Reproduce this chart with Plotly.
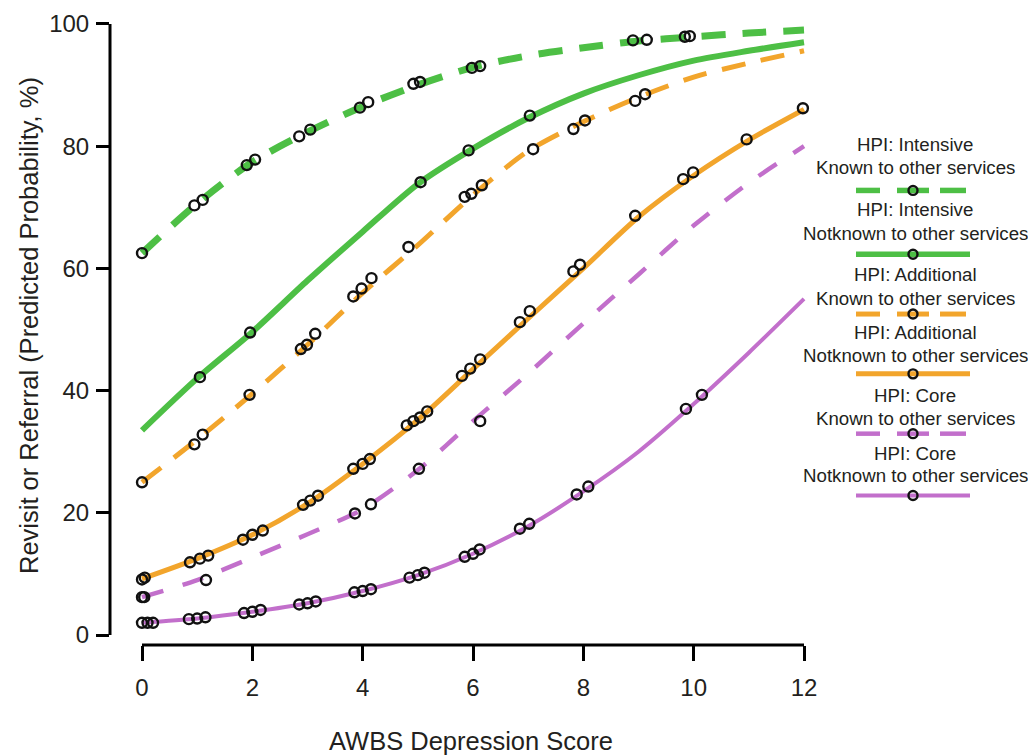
import plotly.graph_objects as go

# ---------------- data ----------------
x_scores = [0, 1, 2, 3, 4, 5, 6, 7, 8, 9, 10, 11, 12]

int_known    = [62.5, 70.6, 77.4, 82.3, 86.5, 90.0, 92.9, 94.8, 96.1, 97.2, 97.9, 98.5, 99.0]
int_notknown = [33.5, 42.0, 49.6, 58.0, 66.0, 73.8, 79.6, 84.6, 88.6, 91.6, 94.0, 95.6, 97.0]
add_known    = [25.0, 32.0, 39.5, 47.5, 56.0, 63.8, 72.0, 79.2, 84.0, 88.0, 91.3, 93.6, 95.6]
add_notknown = [9.2, 12.5, 16.4, 21.5, 28.0, 35.2, 43.5, 51.8, 60.0, 68.4, 75.2, 81.0, 86.0]
core_known   = [6.2, 9.0, 12.7, 16.5, 20.6, 27.0, 35.0, 42.8, 51.0, 59.0, 67.0, 74.0, 80.0]
core_notknown = [2.0, 2.7, 3.8, 5.2, 7.2, 9.8, 13.3, 17.8, 23.5, 30.0, 37.8, 46.2, 55.0]

# jittered observed points (x, predicted %)
pts_int_known_x = [0.0, 0.95, 1.1, 1.9, 2.05, 2.85, 3.05, 3.95, 4.1, 4.92, 5.04, 5.98, 6.13, 8.9, 9.15, 9.84, 9.93]
pts_int_known_y = [62.5, 70.3, 71.2, 76.9, 77.8, 81.6, 82.7, 86.3, 87.2, 90.2, 90.5, 92.8, 93.1, 97.3, 97.4, 97.9, 98.0]
pts_int_notknown_x = [1.05, 1.96, 5.05, 5.92, 7.03]
pts_int_notknown_y = [42.2, 49.5, 74.1, 79.3, 85.0]
pts_add_known_x = [0.0, 0.95, 1.1, 1.95, 2.88, 2.99, 3.14, 3.83, 3.98, 4.16, 4.83, 5.85, 5.97, 6.16, 7.09, 7.82, 8.03, 8.94, 9.12]
pts_add_known_y = [25.0, 31.2, 32.8, 39.3, 46.8, 47.5, 49.3, 55.4, 56.7, 58.4, 63.5, 71.7, 72.2, 73.6, 79.5, 82.8, 84.2, 87.4, 88.5]
pts_add_notknown_x = [0.0, 0.05, 0.87, 1.05, 1.2, 1.83, 2.0, 2.19, 2.92, 3.05, 3.19, 3.83, 4.0, 4.13, 4.8, 4.92, 5.04, 5.17,
                      5.8, 5.95, 6.13, 6.85, 7.03, 7.82, 7.94, 8.94, 9.81, 9.99, 10.96, 11.98]
pts_add_notknown_y = [9.1, 9.4, 11.9, 12.5, 13.0, 15.6, 16.4, 17.1, 21.3, 22.0, 22.8, 27.2, 28.0, 28.8, 34.3, 35.0, 35.6, 36.6,
                      42.4, 43.6, 45.1, 51.2, 53.0, 59.5, 60.6, 68.6, 74.6, 75.7, 81.1, 86.2]
pts_core_known_x = [0.0, 0.04, 1.16, 3.86, 4.15, 5.02, 6.13]
pts_core_known_y = [6.2, 6.2, 9.0, 19.9, 21.4, 27.2, 35.0]
pts_core_notknown_x = [0.0, 0.1, 0.2, 0.85, 1.0, 1.15, 1.85, 2.0, 2.15, 2.85, 3.0, 3.15, 3.85, 4.0, 4.15, 4.85, 5.0, 5.12,
                       5.85, 6.0, 6.12, 6.85, 7.02, 7.88, 8.09, 9.86, 10.15]
pts_core_notknown_y = [2.0, 2.0, 2.0, 2.6, 2.7, 2.9, 3.6, 3.8, 4.1, 5.0, 5.2, 5.5, 7.0, 7.2, 7.5, 9.4, 9.8, 10.2,
                       12.8, 13.3, 14.0, 17.4, 18.2, 23.0, 24.3, 37.0, 39.3]

series_names = [
    ("HPI: Intensive", "Known to other services"),
    ("HPI: Intensive", "Notknown to other services"),
    ("HPI: Additional", "Known to other services"),
    ("HPI: Additional", "Notknown to other services"),
    ("HPI: Core", "Known to other services"),
    ("HPI: Core", "Notknown to other services"),
]

GREEN = "#4dbf45"
ORANGE = "#f2a52c"
PURPLE = "#c26fcb"
TXT = "#231f20"
FONT = "Liberation Sans, Arial, Helvetica, sans-serif"

styles = [
    dict(color=GREEN, width=7, dash="24px,17px"),
    dict(color=GREEN, width=6, dash="solid"),
    dict(color=ORANGE, width=5, dash="24px,16px"),
    dict(color=ORANGE, width=5, dash="solid"),
    dict(color=PURPLE, width=4.5, dash="22px,20px"),
    dict(color=PURPLE, width=4, dash="solid"),
]
curves = [int_known, int_notknown, add_known, add_notknown, core_known, core_notknown]
pts = [
    (pts_int_known_x, pts_int_known_y),
    (pts_int_notknown_x, pts_int_notknown_y),
    (pts_add_known_x, pts_add_known_y),
    (pts_add_notknown_x, pts_add_notknown_y),
    (pts_core_known_x, pts_core_known_y),
    (pts_core_notknown_x, pts_core_notknown_y),
]

fig = go.Figure()
for (n1, n2), ys, st in zip(series_names, curves, styles):
    fig.add_trace(go.Scatter(
        x=x_scores, y=ys, mode="lines", line=dict(shape="spline", smoothing=0.8, **st),
        name=n1 + " " + n2, showlegend=False, hoverinfo="skip"))
for (n1, n2), st, (px_, py_) in zip(series_names, styles, pts):
    fig.add_trace(go.Scatter(
        x=px_, y=py_, mode="markers",
        marker=dict(symbol="circle", size=10, color="rgba(255,255,255,0)",
                    line=dict(color="#111111", width=2.4)),
        name=n1 + " " + n2, showlegend=False))

# ---------------- layout geometry (pixels) ----------------
OFF = 8                      # default page (body) margin
W, H = 1036 - OFF, 755 - OFF
ML, MR, MT, MB = 102, 216, 2, 110
PW = W - ML - MR
PH = H - MT - MB


def pxx(p):                  # page pixel x -> paper
    return (p - OFF - ML) / PW


def pxy(p):                  # page pixel y -> paper
    return (H - MB - (p - OFF)) / PH


shapes = [
    # R-style detached axis lines
    dict(type="line", xref="paper", yref="y", x0=0, x1=0, y0=0, y1=100,
         line=dict(color="black", width=3)),
    dict(type="line", xref="x", yref="paper", x0=0, x1=12, y0=0, y1=0,
         line=dict(color="black", width=3)),
]
annotations = [
    dict(text="Revisit or Referral (Predicted Probability, %)", xref="paper", yref="paper",
         x=pxx(29), y=pxy(325), textangle=-90, showarrow=False,
         font=dict(size=25.5, color=TXT, family=FONT), xanchor="center", yanchor="middle"),
    dict(text="AWBS Depression Score", xref="paper", yref="paper",
         x=pxx(471), y=pxy(741), showarrow=False,
         font=dict(size=25.5, color=TXT, family=FONT), xanchor="center", yanchor="middle"),
]

# ---------------- custom legend (text above, sample below) ----------------
leg_cx = 915
leg_rows = [(143, 166, 189), (208, 232, 253), (273, 297, 313),
            (332, 355, 373), (395, 418, 433), (453, 475, 495)]
for (n1, n2), st, (y1, y2, yl) in zip(series_names, styles, leg_rows):
    annotations.append(dict(text=n1, xref="paper", yref="paper", x=pxx(leg_cx), y=pxy(y1),
                            showarrow=False, xanchor="center", yanchor="middle",
                            font=dict(size=18.7, color=TXT, family=FONT)))
    annotations.append(dict(text=n2, xref="paper", yref="paper", x=pxx(leg_cx), y=pxy(y2),
                            showarrow=False, xanchor="center", yanchor="middle",
                            font=dict(size=18.7, color=TXT, family=FONT)))
    lw = min(st["width"], 5.5)
    if st["dash"] == "solid":
        shapes.append(dict(type="line", xref="paper", yref="paper",
                           x0=pxx(856), x1=pxx(970), y0=pxy(yl), y1=pxy(yl),
                           line=dict(color=st["color"], width=lw)))
    else:
        for a, b in [(856, 880), (897, 929), (940, 966)]:
            shapes.append(dict(type="line", xref="paper", yref="paper",
                               x0=pxx(a), x1=pxx(b), y0=pxy(yl), y1=pxy(yl),
                               line=dict(color=st["color"], width=lw)))
    r = 4.5
    shapes.append(dict(type="circle", xref="paper", yref="paper",
                       x0=pxx(913 - r), x1=pxx(913 + r), y0=pxy(yl + r), y1=pxy(yl - r),
                       line=dict(color="#111111", width=2.4), fillcolor="rgba(255,255,255,0)"))

fig.update_layout(
    width=W, height=H,
    margin=dict(l=ML, r=MR, t=MT, b=MB),
    paper_bgcolor="white", plot_bgcolor="white",
    font=dict(family=FONT, color=TXT),
    shapes=shapes, annotations=annotations,
    xaxis=dict(range=[-0.58, 12.29], tickvals=[0, 2, 4, 6, 8, 10, 12], ticks="outside",
               ticklen=15, tickwidth=3, tickcolor="black", showline=False, showgrid=False,
               zeroline=False, tickfont=dict(size=24, color=TXT, family=FONT),
               ticklabelstandoff=6),
    yaxis=dict(range=[-1.63, 101.95], tickvals=[0, 20, 40, 60, 80, 100], ticks="outside",
               ticklen=13, tickwidth=3, tickcolor="black", showline=False, showgrid=False,
               zeroline=False, tickfont=dict(size=24, color=TXT, family=FONT),
               ticklabelstandoff=2),
    showlegend=False,
)

fig.write_html("out.html")
